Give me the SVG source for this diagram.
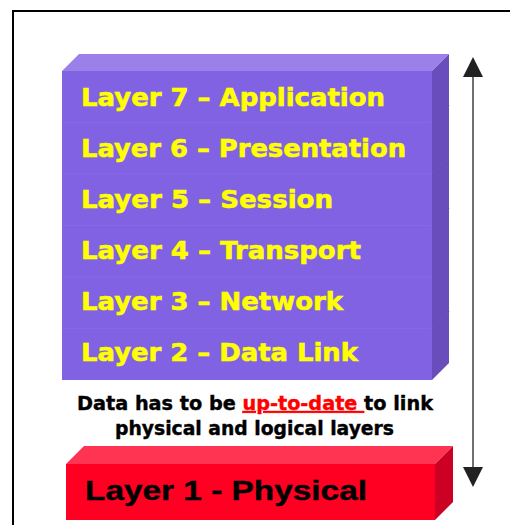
<svg xmlns="http://www.w3.org/2000/svg" width="510" height="525" viewBox="0 0 510 525">
<style>
.lay{font-family:"DejaVu Sans",Verdana,sans-serif;font-weight:bold;font-size:25px;fill:#FFFF00;stroke:#FFFF00;stroke-width:0.6}
.cap{font-family:"DejaVu Sans",Verdana,sans-serif;font-weight:bold;font-size:19px;fill:#000;stroke:#000;stroke-width:0.4}
.sep{stroke:#866AE5;stroke-width:1}
.sep2{stroke:#6F52C0;stroke-width:1}
</style>
<defs>
<marker id="ah" viewBox="0 0 20 20" refX="0" refY="10" markerWidth="20" markerHeight="20" markerUnits="userSpaceOnUse" orient="auto-start-reverse">
<path d="M0,0 L20,10 L0,20 Z" fill="#222"/>
</marker>
</defs>
<rect x="13" y="11" width="520" height="530" fill="#fff" stroke="#000" stroke-width="2"/>
<g id="osi-stack">
<polygon points="62,71 79,54 449,54 432,71" fill="#9B80EA"/>
<polygon points="432,71 449,54 449,363 432,380" fill="#6A4DBC"/>
<rect x="62" y="71" width="370" height="309" fill="#8062E3"/>
<g>
<line class="sep" x1="62" y1="122.5" x2="432" y2="122.5"/>
<line class="sep" x1="62" y1="174" x2="432" y2="174"/>
<line class="sep" x1="62" y1="225.5" x2="432" y2="225.5"/>
<line class="sep" x1="62" y1="277" x2="432" y2="277"/>
<line class="sep" x1="62" y1="328.5" x2="432" y2="328.5"/>
<line class="sep2" x1="432" y1="122.5" x2="449" y2="105.5"/>
<line class="sep2" x1="432" y1="174" x2="449" y2="157"/>
<line class="sep2" x1="432" y1="225.5" x2="449" y2="208.5"/>
<line class="sep2" x1="432" y1="277" x2="449" y2="260"/>
<line class="sep2" x1="432" y1="328.5" x2="449" y2="311.5"/>
</g>
</g>
<g id="layer7"><text class="lay" x="81" y="106" textLength="304" lengthAdjust="spacingAndGlyphs">Layer 7 – Application</text></g>
<g id="layer6"><text class="lay" x="81" y="157" textLength="325" lengthAdjust="spacingAndGlyphs">Layer 6 – Presentation</text></g>
<g id="layer5"><text class="lay" x="81" y="208" textLength="252" lengthAdjust="spacingAndGlyphs">Layer 5 – Session</text></g>
<g id="layer4"><text class="lay" x="81" y="259" textLength="280" lengthAdjust="spacingAndGlyphs">Layer 4 – Transport</text></g>
<g id="layer3"><text class="lay" x="81" y="310" textLength="262" lengthAdjust="spacingAndGlyphs">Layer 3 – Network</text></g>
<g id="layer2"><text class="lay" x="81" y="361" textLength="277" lengthAdjust="spacingAndGlyphs">Layer 2 – Data Link</text></g>
<g id="caption">
<text class="cap" x="77" y="410" textLength="356" lengthAdjust="spacingAndGlyphs">Data has to be <tspan fill="#FF0000" stroke="#FF0000" text-decoration="underline">up-to-date </tspan> to link</text>
<text class="cap" x="115" y="435" textLength="279" lengthAdjust="spacingAndGlyphs">physical and logical layers</text>
</g>
<g id="layer1">
<polygon points="66,464 84,446 453,446 435,464" fill="#FF3352"/>
<polygon points="435,464 453,446 453,502 435,520" fill="#CC0022"/>
<rect x="66" y="464" width="369" height="56" fill="#FF0022"/>
<text x="85" y="500" font-family="'Liberation Sans',Arial,sans-serif" font-weight="bold" font-size="27" fill="#000" stroke="#000" stroke-width="0.4" textLength="282" lengthAdjust="spacingAndGlyphs">Layer 1 - Physical</text>
</g>
<g id="connectors">
<line x1="473" y1="77" x2="473" y2="467" stroke="#707070" stroke-width="2" marker-start="url(#ah)" marker-end="url(#ah)"/>
</g>
</svg>
